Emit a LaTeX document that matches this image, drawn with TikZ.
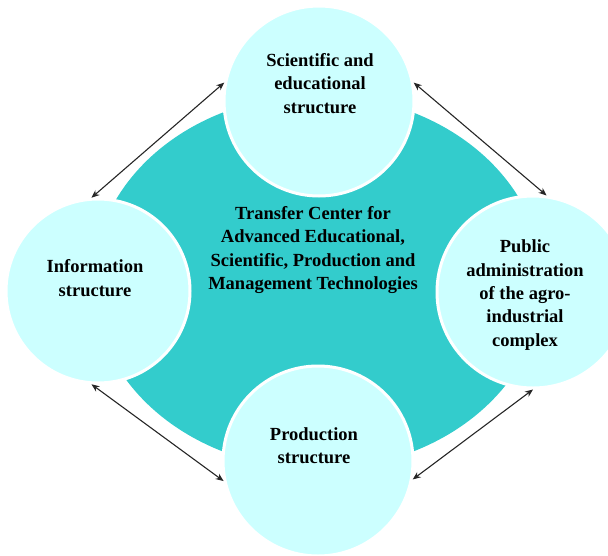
\documentclass[tikz,border=0pt]{standalone}
\usepackage{fontspec}
\setmainfont{Liberation Serif}
\usetikzlibrary{arrows.meta}
\definecolor{tealbg}{RGB}{51,204,204}
\definecolor{lightcy}{RGB}{204,255,255}
\begin{document}
\begin{tikzpicture}[x=1pt,y=-1pt,
  blob/.style={circle,fill=lightcy,draw=white,line width=3pt,inner sep=0pt},
  lbl/.style={align=center,inner sep=0pt,font=\bfseries\fontsize{18.5}{23.3}\selectfont},
  link/.style={line width=1.1pt,draw=black!85,{Stealth[length=8pt,width=6.5pt]}-{Stealth[length=8pt,width=6.5pt]}}]
\useasboundingbox (0,0) rectangle (608,555);
\fill[tealbg] (318,282) ellipse [x radius=225, y radius=187];
\node[blob,minimum size=190pt] (T) at (319,101) {};
\node[blob,minimum size=184pt] (L) at (98,291) {};
\node[blob,minimum size=192pt] (R) at (533,292) {};
\node[blob,minimum size=190pt] (B) at (318,461) {};
\node[lbl] (tT) at (320,83.5) {Scientific and\\educational\\structure};
\node[lbl] (tC) at (313,250) {Transfer Center for\\Advanced Educational,\\Scientific, Production and\\Management Technologies};
\node[lbl] (tL) at (95,278) {Information\\structure};
\node[lbl] (tR) at (525,295) {Public\\administration\\of the agro-\\industrial\\complex};
\node[lbl] (tB) at (314,446) {Production\\structure};
\draw[link] (T.169) -- (L.94);
\draw[link] (T.11) -- (R.82);
\draw[link] (R.270) -- (B.-11);
\draw[link] (L.266) -- (B.192);
\end{tikzpicture}
\end{document}
